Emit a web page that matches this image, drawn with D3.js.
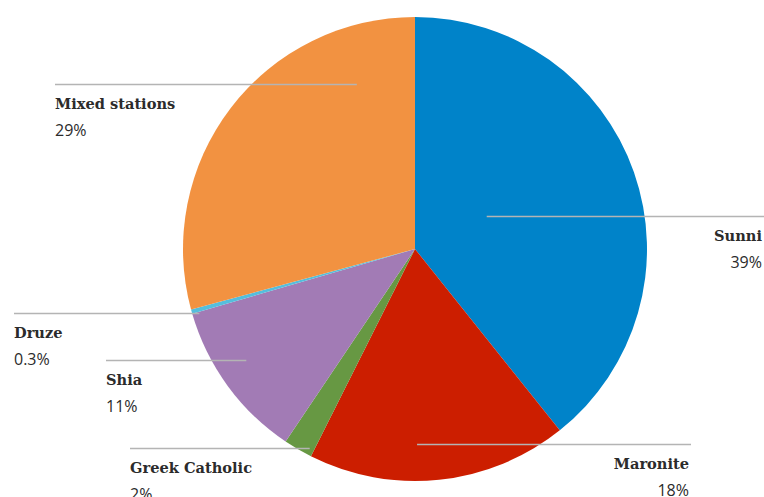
<!DOCTYPE html>
<html>
<head>
<meta charset="utf-8">
<script src="https://cdn.jsdelivr.net/npm/d3@7"></script>
<style>
  html, body { margin: 0; padding: 0; background: #fff; }
  svg { display: block; }
</style>
</head>
<body>
<script>
// Share of stations by community, clockwise from 12 o'clock
const categories = ["Sunni", "Maronite", "Greek Catholic", "Shia", "Druze", "Mixed stations"];
const values = [39, 18, 2, 11, 0.3, 29];
const valueLabels = ["39%", "18%", "2%", "11%", "0.3%", "29%"];
const colors = ["#0083c9", "#cc1e00", "#679843", "#a27bb5", "#55bedc", "#f29241"];

// Callout layout: where the leader touches the slice (angle in degrees, radius as
// fraction of the pie radius), where it ends outside, and the text alignment.
const callouts = [
  { angle: 65.4,  rFrac: 0.34, outerX: 764, anchor: "end"   },
  { angle: 179.4, rFrac: 0.84, outerX: 691, anchor: "end"   },
  { angle: 207.9, rFrac: 0.97, outerX: 130, anchor: "start" },
  { angle: 236.7, rFrac: 0.87, outerX: 106, anchor: "start" },
  { angle: 253.4, rFrac: 0.97, outerX: 14,  anchor: "start" },
  { angle: 340.6, rFrac: 0.755, outerX: 55, anchor: "start" }
];

const width = 764, height = 497;
const cx = 415, cy = 249, radius = 232;

const svg = d3.select("body").append("svg")
  .attr("width", width).attr("height", height);

const pie = d3.pie().sort(null).value(d => d);
const arcs = pie(values);
const arc = d3.arc().innerRadius(0).outerRadius(radius);

const g = svg.append("g").attr("transform", `translate(${cx},${cy})`);

g.selectAll("path.slice")
  .data(arcs)
  .join("path")
  .attr("class", "slice")
  .attr("d", arc)
  .attr("fill", (d, i) => colors[i]);

// Leader lines and labels
const labelG = svg.append("g");
callouts.forEach((c, i) => {
  const a = c.angle * Math.PI / 180;
  const r = radius * c.rFrac;
  const px = cx + r * Math.sin(a);
  const py = cy - r * Math.cos(a);
  const y = Math.round(py) + 0.5;

  labelG.append("line")
    .attr("x1", px).attr("x2", c.outerX)
    .attr("y1", y).attr("y2", y)
    .attr("stroke", "#b4b4b4")
    .attr("stroke-width", 1.3);

  const tx = c.anchor === "end" ? c.outerX - 2 : c.outerX;
  labelG.append("text")
    .attr("x", tx).attr("y", y + 24)
    .attr("text-anchor", c.anchor)
    .attr("font-family", "'DejaVu Serif', serif")
    .attr("font-weight", "bold")
    .attr("font-size", 14.6)
    .attr("fill", "#2b2b2b")
    .text(categories[i]);

  labelG.append("text")
    .attr("x", tx).attr("y", y + 51)
    .attr("text-anchor", c.anchor)
    .attr("font-family", "'Open Sans', sans-serif")
    .attr("font-size", 16)
    .attr("fill", "#2b2b2b")
    .text(valueLabels[i]);
});
</script>
</body>
</html>
